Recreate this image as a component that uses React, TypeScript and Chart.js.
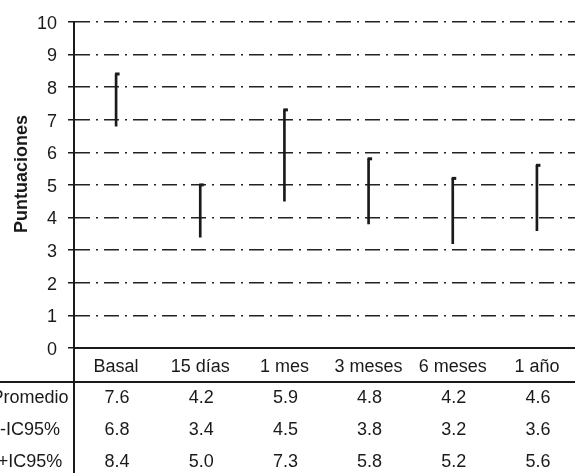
import React, { useEffect, useRef } from "react";
import { Chart, registerables } from "chart.js";

Chart.register(...registerables);

const categories = ["Basal", "15 días", "1 mes", "3 meses", "6 meses", "1 año"];
const promedio = [7.6, 4.2, 5.9, 4.8, 4.2, 4.6];
const icLow = [6.8, 3.4, 4.5, 3.8, 3.2, 3.6];
const icHigh = [8.4, 5.0, 7.3, 5.8, 5.2, 5.6];
const rowLabels = ["Promedio", "-IC95%", "+IC95%"];
const rowValues = [promedio, icLow, icHigh];
const yTitle = "Puntuaciones";

const FONT = "'Liberation Sans', Arial, Helvetica, sans-serif";
const INK = "#1a1a1a";
const FS = 18;

const tablePlugin = {
  id: "tablePlugin",
  afterDatasetsDraw(chart: any) {
    const ctx = chart.ctx;
    const xs = chart.scales.x;
    const ys = chart.scales.y;
    ctx.save();
    ctx.fillStyle = INK;
    icHigh.forEach((v, i) => {
      const x = xs.getPixelForValue(i);
      const y = ys.getPixelForValue(v);
      ctx.fillRect(x - 1, y - 1.5, 4.5, 3);
    });
    ctx.restore();
  },
  afterDraw(chart: any) {
    const ctx = chart.ctx;
    const xs = chart.scales.x;
    const area = chart.chartArea;
    const H = chart.height;
    ctx.save();
    ctx.strokeStyle = INK;
    ctx.lineWidth = 2;
    const sepY = area.bottom + 34;
    ctx.beginPath();
    ctx.moveTo(0, sepY);
    ctx.lineTo(chart.width, sepY);
    ctx.stroke();
    ctx.beginPath();
    ctx.moveTo(area.left, area.bottom);
    ctx.lineTo(area.left, H);
    ctx.stroke();
    ctx.fillStyle = INK;
    ctx.font = `${FS}px ${FONT}`;
    ctx.textAlign = "center";
    ctx.textBaseline = "middle";
    const rowH = 32;
    rowLabels.forEach((lab, r) => {
      const y = sepY + rowH / 2 + r * rowH;
      ctx.fillText(lab, 30, y);
      rowValues[r].forEach((v, i) => {
        ctx.fillText(v.toFixed(1), xs.getPixelForValue(i) + 1, y);
      });
    });
    ctx.save();
    ctx.translate(22, 174);
    ctx.rotate(-Math.PI / 2);
    ctx.font = `bold 18px ${FONT}`;
    ctx.fillText(yTitle, 0, 0);
    ctx.restore();
    ctx.restore();
  },
};

export default function App() {
  const ref = useRef<HTMLCanvasElement>(null);
  useEffect(() => {
    if (!ref.current) return;
    const chart = new Chart(ref.current, {
      type: "bar",
      data: {
        labels: categories,
        datasets: [
          {
            label: "IC95%",
            data: icLow.map((l, i) => [l, icHigh[i]]) as any,
            backgroundColor: INK,
            borderWidth: 0,
            barThickness: 2,
          },
        ],
      },
      options: {
        responsive: false,
        animation: false,
        layout: { padding: { top: 17, left: 0, right: 0, bottom: 0 } },
        plugins: { legend: { display: false }, tooltip: { enabled: false } },
        scales: {
          x: {
            grid: { display: false, drawTicks: false },
            border: { display: true, color: INK, width: 2 },
            ticks: { color: INK, font: { family: FONT, size: FS }, padding: 8, maxRotation: 0 },
            afterFit: (s: any) => {
              s.height = 125;
            },
          },
          y: {
            min: 0,
            max: 10,
            ticks: {
              stepSize: 1,
              color: INK,
              font: { family: FONT, size: FS },
              padding: 11,
              labelOffset: 2,
            },
            grid: {
              color: "#222",
              lineWidth: 1.5,
              tickLength: 6,
              tickColor: INK,
              tickWidth: 1.5,
              tickBorderDash: [],
            },
            border: { display: true, color: INK, width: 2, dash: [15, 6, 2, 6] } as any,
            afterFit: (s: any) => {
              s.width = 74;
            },
          },
        },
      },
      plugins: [tablePlugin],
    });
    return () => chart.destroy();
  }, []);
  return (
    <div style={{ position: "absolute", left: 0, top: 0, width: 575, height: 473, overflow: "hidden", background: "#fff" }}>
      <canvas ref={ref} width={579} height={473} style={{ display: "block" }} />
    </div>
  );
}
